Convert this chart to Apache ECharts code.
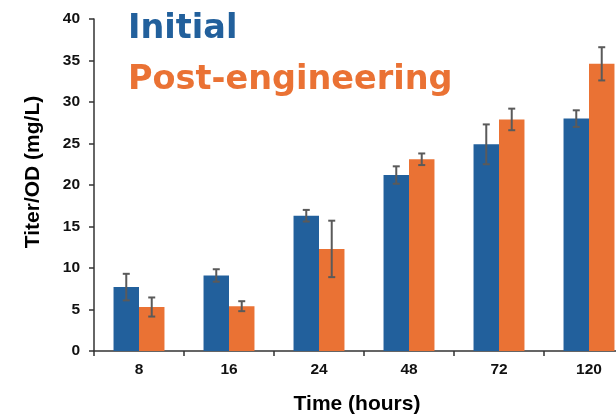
<!DOCTYPE html>
<html>
<head>
<meta charset="utf-8">
<script src="https://cdn.jsdelivr.net/npm/echarts@6/dist/echarts.min.js"></script>
<style>
  html, body { margin: 0; padding: 0; background: #fff; overflow: hidden; }
  /* the original figure is cropped on the right, so the plot runs past the window */
  #container { width: 634px; height: 414px; }
</style>
</head>
<body>
<div id="container"></div>
<script>
// time points (hours)
var categories = ['8', '16', '24', '48', '72', '120'];
// Initial strain, titer/OD
var initialValues = [7.7, 9.1, 16.3, 21.2, 24.9, 28.0];
var initialErrors = [1.6, 0.75, 0.7, 1.05, 2.4, 1.0];
// post-engineering strain
var postValues = [5.3, 5.4, 12.3, 23.1, 27.9, 34.6];
var postErrors = [1.15, 0.6, 3.4, 0.7, 1.3, 2.0];
var yTicks = [0, 5, 10, 15, 20, 25, 30, 35, 40];

var blue = '#22609c';
var orange = '#ea7234';
var barPct = 0.283;

let dom = document.getElementById('container');
let myChart = echarts.init(dom);

// error bar data: [categoryIndex, low, high, side]
function errData(values, errors, side) {
    let out = [];
    values.forEach(function (v, i) {
        out.push([i, v - errors[i], v + errors[i], side]);
    });
    return out;
}

function renderError(params, api) {
    let idx = api.value(0);
    let side = api.value(3);
    let bandW = api.size([1, 0])[0];
    let off = side * bandW * barPct / 2;
    let lo = api.coord([idx, api.value(1)]);
    let hi = api.coord([idx, api.value(2)]);
    let x = lo[0] + off;
    let cap = 3.5;
    let style = { stroke: '#5a5a5a', lineWidth: 2 };
    return {
        type: 'group',
        children: [
            { type: 'line', shape: { x1: x, y1: lo[1], x2: x, y2: hi[1] }, style: style },
            { type: 'line', shape: { x1: x - cap, y1: lo[1], x2: x + cap, y2: lo[1] }, style: style },
            { type: 'line', shape: { x1: x - cap, y1: hi[1], x2: x + cap, y2: hi[1] }, style: style }
        ]
    };
}

let option = {
    animation: false,
    title: {
        text: '{a|Initial}\n{b|Post-engineering}',
        left: 128,
        top: 4,
        padding: 0,
        textStyle: {
            rich: {
                a: { color: blue, fontSize: 33.5, fontWeight: 'bold', fontFamily: 'DejaVu Sans', lineHeight: 51 },
                b: { color: orange, fontSize: 33.5, fontWeight: 'bold', fontFamily: 'DejaVu Sans', lineHeight: 51 }
            }
        }
    },
    grid: {
        left: 94,
        right: 0,
        top: 19,
        bottom: 63,
        containLabel: false,
        outerBoundsMode: 'none'
    },
    xAxis: {
        type: 'category',
        data: categories,
        name: 'Time (hours)',
        nameLocation: 'middle',
        nameGap: 43,
        nameTextStyle: { fontSize: 21, fontWeight: 'bold', color: '#000', fontFamily: 'Liberation Sans', padding: [0, 14, 0, 0] },
        axisLine: { lineStyle: { color: '#333', width: 1.5 } },
        axisTick: { show: true, length: 5, lineStyle: { color: '#333', width: 1.5 } },
        axisLabel: { fontSize: 15.5, fontWeight: 'bold', color: '#111', fontFamily: 'Liberation Sans', margin: 11 }
    },
    yAxis: {
        type: 'value',
        min: yTicks[0],
        max: yTicks[yTicks.length - 1],
        interval: 5,
        name: 'Titer/OD (mg/L)',
        nameLocation: 'middle',
        nameGap: 50,
        nameTextStyle: { fontSize: 21, fontWeight: 'bold', color: '#000', fontFamily: 'Liberation Sans', padding: [0, 0, 0, 26] },
        splitLine: { show: false },
        axisLine: { show: true, lineStyle: { color: '#333', width: 1.5 } },
        axisTick: { show: true, length: 5, lineStyle: { color: '#333', width: 1.5 } },
        axisLabel: { fontSize: 15.5, fontWeight: 'bold', color: '#111', fontFamily: 'Liberation Sans', margin: 14 }
    },
    series: [{
        name: 'Initial',
        type: 'bar',
        data: initialValues,
        barWidth: (barPct * 100) + '%',
        barGap: '0%',
        itemStyle: { color: blue }
    }, {
        name: 'Post-engineering',
        type: 'bar',
        data: postValues,
        barWidth: (barPct * 100) + '%',
        barGap: '0%',
        itemStyle: { color: orange }
    }, {
        type: 'custom',
        renderItem: renderError,
        data: errData(initialValues, initialErrors, -1),
        z: 10
    }, {
        type: 'custom',
        renderItem: renderError,
        data: errData(postValues, postErrors, 1),
        z: 10
    }]
};

myChart.setOption(option);
</script>
</body>
</html>
